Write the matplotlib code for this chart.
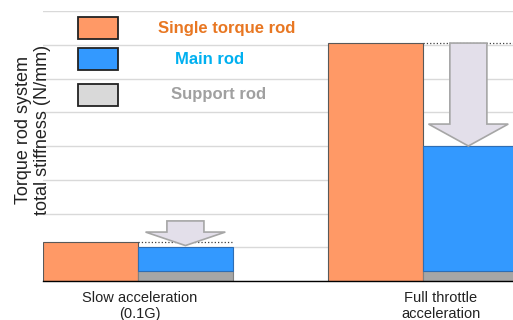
import matplotlib
matplotlib.use("Agg")
import matplotlib.pyplot as plt
from matplotlib.patches import Rectangle, Polygon

plt.rcParams['font.family'] = ['Liberation Sans', 'DejaVu Sans']

# data (stiffness, arbitrary units)
conditions = ["Slow acceleration\n(0.1G)", "Full throttle\nacceleration"]
single_rod = [1.16, 7.05]
main_rod = [0.70, 3.70]
support_rod = [0.30, 0.30]
legend_labels = ["Single torque rod", "Main rod", "Support rod"]

c_single = '#FF9966'
c_main = '#3399FF'
c_support = '#A6A6A6'

fig = plt.figure(figsize=(5.13, 3.2), dpi=100)
ax = fig.add_axes([43 / 513, 39 / 320, 470 / 513, 270 / 320])

group_start = [0.0, 3.0]
bw = 1.0
for i in range(len(conditions)):
    x0 = group_start[i]
    ax.bar(x0 + bw / 2, single_rod[i], bw, color=c_single, edgecolor='#595959', linewidth=0.8, zorder=3)
    ax.bar(x0 + 1.5 * bw, support_rod[i], bw, color=c_support, edgecolor='#808080', linewidth=0.8, zorder=3)
    ax.bar(x0 + 1.5 * bw, main_rod[i], bw, bottom=support_rod[i], color=c_main,
           edgecolor='#2E6DB4', linewidth=0.8, zorder=3)
    # dotted reference line at single rod level
    ax.plot([x0 + bw, x0 + 2 * bw], [single_rod[i], single_rod[i]], ls=':', color='#404040', lw=0.9, zorder=4)

# arrows showing the drop
def down_arrow(xc, top, tip, shaft_w=0.39, head_w=0.84, head_l=0.5):
    neck = tip + head_l
    pts = [(xc - shaft_w / 2, top), (xc + shaft_w / 2, top), (xc + shaft_w / 2, neck),
           (xc + head_w / 2, neck), (xc, tip), (xc - head_w / 2, neck), (xc - shaft_w / 2, neck)]
    ax.add_patch(Polygon(pts, closed=True, facecolor='#E3DFEA', edgecolor='#A6A6A6', lw=1.2, zorder=5))

down_arrow(1.5, single_rod[0] + 0.62, support_rod[0] + main_rod[0] + 0.05, head_l=0.4)
down_arrow(4.48, single_rod[1], support_rod[1] + main_rod[1], head_l=0.65)

ax.set_xlim(0, 4.95)
ax.set_ylim(0, 8)
ax.set_yticks(range(0, 9))
ax.yaxis.grid(True, color='#D9D9D9', lw=1.0, zorder=0)
ax.tick_params(axis='y', left=False, labelleft=False)
ax.set_xticks([1.02, 4.19])
ax.set_xticklabels(conditions, fontsize=10.5, color='#222222', linespacing=1.25)
ax.tick_params(axis='x', length=0, pad=7)
for s in ['top', 'right', 'left']:
    ax.spines[s].set_visible(False)
ax.spines['bottom'].set_color('black')
ax.spines['bottom'].set_linewidth(1.0)
ax.spines['bottom'].set_zorder(6)

fig.text(33 / 513, 1 - 130 / 320, "Torque rod system\ntotal stiffness (N/mm)", rotation=90,
         ha='center', va='center', fontsize=13, color='#222222', linespacing=1.1)

# legend drawn by hand
leg_colors = ['#FF9966', '#3399FF', '#D9D9D9']
leg_text_colors = ['#E87722', '#00B0F0', '#A0A0A0']
leg_y = [28, 59, 95]
leg_text_x = [227, 210, 219]
for lab, fc, tc, yc, tx in zip(legend_labels, leg_colors, leg_text_colors, leg_y, leg_text_x):
    fig.patches.append(Rectangle((78 / 513, 1 - (yc + 10.5) / 320), 40 / 513, 21 / 320,
                                 transform=fig.transFigure, facecolor=fc, edgecolor='#222222', lw=1.3, zorder=7))
    fig.text(tx / 513, 1 - yc / 320, lab, ha='center', va='center', fontsize=12,
             fontweight='bold', color=tc, zorder=7)

fig.savefig("out.png", dpi=100)
